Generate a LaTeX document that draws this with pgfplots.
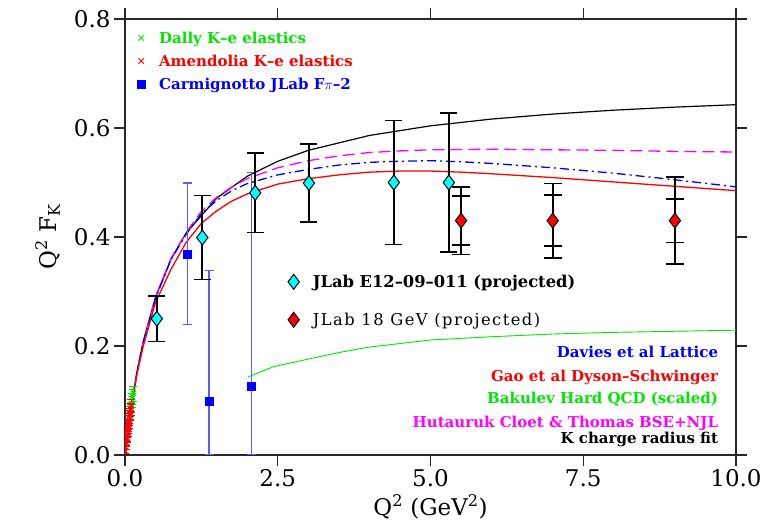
\documentclass[border=0pt]{standalone}
\usepackage{fontspec}
\setmainfont{DejaVu Serif}
\usepackage{pgfplots}
\pgfplotsset{compat=1.18}

\definecolor{kgreen}{RGB}{0,230,0}
\definecolor{kblue}{RGB}{0,0,255}
\definecolor{barblue}{RGB}{90,90,255}
\definecolor{kmag}{RGB}{255,0,255}
\definecolor{kcyan}{RGB}{0,255,255}
\definecolor{axgray}{RGB}{40,40,40}

\newcommand{\legfont}{\fontsize{15}{18}\selectfont\bfseries}
\pgfplotsset{
  myleg/.style={legend image code/.code={\path (0pt,0pt) (17pt,0pt);\draw[##1] plot coordinates {(8.5pt,0pt)};}},
}

\begin{document}
\begin{tikzpicture}
\path[use as bounding box] (-125pt,-67pt) rectangle (655pt,455pt);
\begin{axis}[
  scale only axis, width=611pt, height=436pt,
  xmin=0, xmax=10, ymin=0, ymax=0.8,
  xtick={0,2.5,5,7.5,10}, ytick={0,0.2,0.4,0.6,0.8},
  tick align=outside, major tick length=11pt,
  axis line style={line width=1.4pt, axgray},
  every tick/.style={line width=1.4pt, axgray},
  tick label style={font=\fontsize{23}{26}\selectfont},
  /pgf/number format/.cd, fixed, fixed zerofill, precision=1, assume math mode=true, /pgfplots/.cd,
  label style={font=\fontsize{23}{26}\selectfont},
  xlabel={Q\textsuperscript{2} (GeV\textsuperscript{2})},
  ylabel={Q\textsuperscript{2} F\textsubscript{K}},
  xlabel style={at={(axis description cs:0.5,-0.0906)}, anchor=north, inner sep=0pt},
  ylabel style={at={(axis description cs:-0.1064,0.5)}, anchor=south, inner sep=0pt},
  clip marker paths=true,
  legend cell align=left,
  legend style={at={(axis description cs:0,1)}, anchor=north west, xshift=7pt, yshift=-13.2pt,
    draw=none, fill=none, inner sep=0pt, column sep=9pt, row sep=12.4pt,
    font=\legfont, nodes={inner sep=0pt, text height=10.8pt, text depth=0pt}},
]

% K charge radius fit
\addplot[black, line width=1.2pt, forget plot] coordinates {
(0,0) (0.05,0.0466) (0.1,0.0873) (0.2,0.1549) (0.3,0.2088) (0.5,0.2894) (0.75,0.3586)
(1,0.4072) (1.5,0.4712) (2,0.5114) (2.5,0.5389) (3,0.5590) (4,0.5863) (5,0.6040)
(6,0.6164) (7,0.6256) (8,0.6327) (9,0.6383) (10,0.6428)};

% Hutauruk Cloet & Thomas
\addplot[kmag, line width=1.3pt, dash pattern=on 12pt off 6pt, forget plot] coordinates {
(0,0) (0.05,0.046) (0.1,0.087) (0.2,0.155) (0.3,0.208) (0.5,0.290) (0.75,0.360)
(1,0.408) (1.25,0.447) (1.5,0.473) (1.75,0.492) (2,0.507) (2.5,0.527) (3,0.540)
(3.5,0.549) (4,0.555) (4.5,0.558) (5,0.560) (6,0.561) (7,0.560) (8,0.559) (9,0.557) (10,0.556)};

% Davies lattice
\addplot[kblue, line width=1.3pt, dash pattern=on 9pt off 4pt on 2pt off 4pt, forget plot] coordinates {
(0,0) (0.05,0.046) (0.1,0.087) (0.2,0.154) (0.3,0.207) (0.5,0.288) (0.75,0.358)
(1,0.405) (1.25,0.443) (1.5,0.467) (1.75,0.485) (2,0.498) (2.5,0.514) (3,0.524)
(3.5,0.532) (4,0.537) (4.5,0.539) (5,0.540) (5.5,0.538) (6,0.535) (7,0.527) (8,0.517) (9,0.505) (10,0.492)};

% Gao DSE
\addplot[red, line width=1.3pt, forget plot] coordinates {
(0,0) (0.05,0.045) (0.1,0.085) (0.2,0.150) (0.3,0.200) (0.5,0.280) (0.75,0.340)
(1,0.390) (1.25,0.425) (1.5,0.448) (1.75,0.466) (2,0.479) (2.5,0.497) (3,0.507)
(3.5,0.514) (4,0.519) (4.5,0.521) (5,0.521) (5.5,0.519) (6,0.516) (7,0.509) (8,0.501) (9,0.493) (10,0.485)};

% Bakulev hard QCD
\addplot[kgreen, line width=0.9pt, forget plot] coordinates {
(2.01,0.143) (2.43,0.162) (3,0.176) (3.5,0.188) (4,0.198) (5,0.211) (6,0.217)
(7,0.222) (8,0.225) (9,0.227) (10,0.229)};

% Dally
\addplot[kgreen, only marks, mark=x, mark size=3.8pt, line width=0.9pt, myleg,
  error bars/.cd, y dir=both, y explicit] coordinates {
(0.085,0.078) +- (0,0.012) (0.095,0.085) +- (0,0.012) (0.105,0.094) +- (0,0.013)
(0.115,0.100) +- (0,0.013) (0.125,0.107) +- (0,0.014) (0.135,0.113) +- (0,0.014)};
\addlegendentry{\textcolor{kgreen}{Dally K--e elastics}}

% Amendolia
\addplot[red, only marks, mark=x, mark size=3.8pt, line width=0.9pt, myleg,
  error bars/.cd, y dir=both, y explicit] coordinates {
(0.008,0.007) +- (0,0.004) (0.015,0.014) +- (0,0.004) (0.020,0.020) +- (0,0.004)
(0.025,0.023) +- (0,0.005) (0.030,0.029) +- (0,0.005) (0.035,0.032) +- (0,0.006)
(0.040,0.038) +- (0,0.006) (0.045,0.041) +- (0,0.006) (0.050,0.047) +- (0,0.007)
(0.055,0.050) +- (0,0.007) (0.060,0.056) +- (0,0.008) (0.065,0.058) +- (0,0.008)
(0.070,0.064) +- (0,0.009) (0.075,0.068) +- (0,0.009) (0.080,0.073) +- (0,0.010)
(0.085,0.076) +- (0,0.010) (0.090,0.082) +- (0,0.011) (0.095,0.084) +- (0,0.011)
(0.100,0.090) +- (0,0.012)};
\addlegendentry{\textcolor{red}{Amendolia K--e elastics}}

% Carmignotto JLab Fpi-2
\addplot[kblue, only marks, mark=square*, mark size=4pt, myleg,
  error bars/.cd, y dir=both, y explicit,
  error bar style={barblue, line width=1.2pt},
  error mark options={rotate=90, barblue, line width=1.2pt, mark size=4.5pt}] coordinates {
(1.02,0.369) +- (0,0.130) (1.375,0.098) += (0,0.240) -= (0,0.098)
(2.07,0.127) += (0,0.392) -= (0,0.127)};
\addlegendentry{\textcolor{kblue}{Carmignotto JLab F\(\pi\)--2}}

% JLab E12-09-011 projected
\addplot[black, only marks, mark=diamond*, mark size=7.5pt, forget plot,
  mark options={fill=kcyan, draw=black, line width=1pt},
  error bars/.cd, y dir=both, y explicit,
  error bar style={line width=1.6pt},
  error mark options={rotate=90, line width=1.6pt, mark size=8.5pt}] coordinates {
(0.52,0.250) +- (0,0.042) (1.265,0.399) +- (0,0.077) (2.13,0.481) +- (0,0.073)
(3.01,0.499) +- (0,0.072) (4.40,0.500) +- (0,0.114) (5.30,0.500) +- (0,0.128)};

% JLab 18 GeV projected: outer bars
\addplot[black, only marks, mark=none, forget plot,
  error bars/.cd, y dir=both, y explicit,
  error bar style={line width=1.6pt},
  error mark options={rotate=90, line width=1.6pt, mark size=9pt}] coordinates {
(5.50,0.430) +- (0,0.062) (7.00,0.430) +- (0,0.068) (9.00,0.430) +- (0,0.080)};
% inner bars and markers
\addplot[black, only marks, mark=diamond*, mark size=7.5pt, forget plot,
  mark options={fill=red, draw=black, line width=1pt},
  error bars/.cd, y dir=both, y explicit,
  error bar style={line width=1.6pt},
  error mark options={rotate=90, line width=1.6pt, mark size=9pt}] coordinates {
(5.50,0.430) +- (0,0.045) (7.00,0.430) +- (0,0.047) (9.00,0.430) +- (0,0.040)};

\node[anchor=base east, inner sep=0pt, font=\legfont, text=kblue] at (rel axis cs:0.971,0.2241) {Davies et al Lattice};
\node[anchor=base east, inner sep=0pt, font=\legfont, text=red] at (rel axis cs:0.971,0.1697) {Gao et al Dyson--Schwinger};
\node[anchor=base east, inner sep=0pt, font=\legfont, text=kgreen] at (rel axis cs:0.971,0.1170) {Bakulev Hard QCD (scaled)};
\node[anchor=base east, inner sep=0pt, font=\legfont, text=kmag] at (rel axis cs:0.971,0.0635) {Hutauruk Cloet \& Thomas BSE+NJL};
\node[anchor=base east, inner sep=0pt, font=\legfont, text=black] at (rel axis cs:0.971,0.0268) {K charge radius fit};
\end{axis}

\begin{axis}[
  scale only axis, width=611pt, height=436pt,
  xmin=0, xmax=10, ymin=0, ymax=0.8, hide axis,
  legend cell align=left,
  legend style={at={(axis description cs:0.2615,0.415)}, anchor=north west,
    draw=none, fill=none, inner sep=0pt, column sep=10.5pt, row sep=23pt,
    font=\fontsize{16.3}{19}\selectfont, nodes={inner sep=0pt, text height=11.7pt, text depth=0pt}},
]
\addlegendimage{only marks, mark=diamond*, mark size=7.5pt, mark options={fill=kcyan, draw=black, line width=1pt}, myleg}
\addlegendentry{\textbf{JLab E12--09--011 (projected)}}
\addlegendimage{only marks, mark=diamond*, mark size=7.5pt, mark options={fill=red, draw=black, line width=1pt}, myleg}
\addlegendentry{\addfontfeature{LetterSpace=9}JLab 18 GeV (projected)}
\end{axis}
\end{tikzpicture}
\end{document}
